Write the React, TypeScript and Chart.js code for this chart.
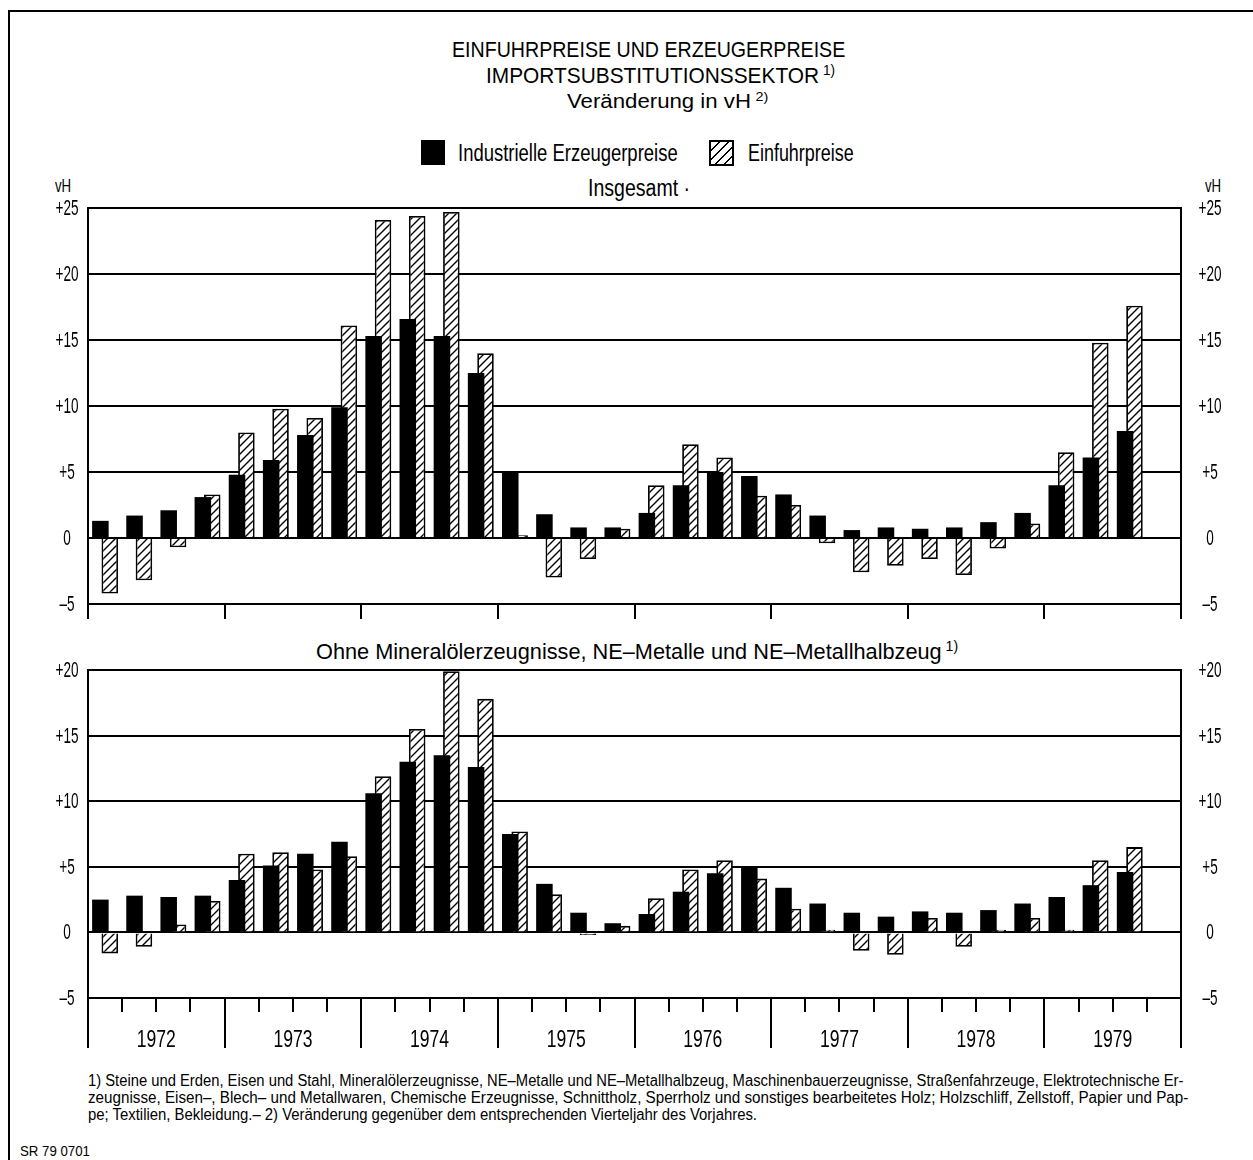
import React, { useEffect, useLayoutEffect, useRef, useState } from 'react';
import { Chart, registerables } from 'chart.js';

Chart.register(...registerables);

// ---------- data ----------
const YEARS = ['1972', '1973', '1974', '1975', '1976', '1977', '1978', '1979'];
const QUARTERS = ['I', 'II', 'III', 'IV'];
const LABELS = YEARS.flatMap((y) => QUARTERS.map((q) => `${q}/${y}`));

// Insgesamt
const TOP_ERZEUGER = [1.3, 1.7, 2.1, 3.1, 4.8, 5.9, 7.8, 9.9, 15.3, 16.6, 15.3, 12.5, 5.0, 1.8, 0.8, 0.8, 1.9, 4.0, 5.0, 4.7, 3.3, 1.7, 0.6, 0.8, 0.7, 0.8, 1.2, 1.9, 4.0, 6.1, 8.1, null];
const TOP_EINFUHR = [-4.2, -3.2, -0.7, 3.3, 8.0, 9.8, 9.1, 16.1, 24.1, 24.4, 24.7, 14.0, 0.2, -3.0, -1.6, 0.7, 4.0, 7.1, 6.1, 3.2, 2.5, -0.4, -2.6, -2.1, -1.6, -2.8, -0.8, 1.1, 6.5, 14.8, 17.6, null];

// Ohne Mineralölerzeugnisse, NE-Metalle und NE-Metallhalbzeug
const BOTTOM_ERZEUGER = [2.5, 2.8, 2.7, 2.8, 4.0, 5.1, 6.0, 6.9, 10.6, 13.0, 13.5, 12.6, 7.5, 3.7, 1.5, 0.7, 1.4, 3.1, 4.5, 5.0, 3.4, 2.2, 1.5, 1.2, 1.6, 1.5, 1.7, 2.2, 2.7, 3.6, 4.6, null];
const BOTTOM_EINFUHR = [-1.6, -1.1, 0.6, 2.4, 6.0, 6.1, 4.8, 5.8, 11.9, 15.5, 19.9, 17.8, 7.7, 2.9, -0.2, 0.5, 2.6, 4.8, 5.5, 4.1, 1.8, 0.2, -1.4, -1.7, 1.1, -1.1, 0.2, 1.1, 0.2, 5.5, 6.5, null];

const TOP_RANGE = [-5, 25];
const BOTTOM_RANGE = [-5, 20];
const TICK_STEP = 5;

const FONT = "'Liberation Sans', Arial, sans-serif";

const fmtTick = (v: number) => (v > 0 ? `+${v}` : v < 0 ? `–${Math.abs(v)}` : '0');

function makeHatch(): CanvasPattern | string {
  const c = document.createElement('canvas');
  c.width = 8;
  c.height = 8;
  const g = c.getContext('2d');
  if (!g) return '#fff';
  g.fillStyle = '#fff';
  g.fillRect(0, 0, 8, 8);
  g.strokeStyle = '#000';
  g.lineWidth = 1.4;
  g.beginPath();
  g.moveTo(-1, 9); g.lineTo(9, -1);
  g.moveTo(-1, 1); g.lineTo(1, -1);
  g.moveTo(7, 9); g.lineTo(9, 7);
  g.stroke();
  return g.createPattern(c, 'repeat') || '#fff';
}

function drawSqueezed(ctx: CanvasRenderingContext2D, text: string, cx: number, cy: number, k: number) {
  ctx.save();
  ctx.translate(cx, cy);
  ctx.scale(k, 1);
  ctx.fillText(text, 0, 0);
  ctx.restore();
}

const axisExtras = {
  id: 'axisExtras',
  afterDraw(chart: any, _args: any, opts: any) {
    const { ctx, chartArea, scales } = chart;
    const x = scales.x;
    const y = scales.y;
    const n = chart.data.labels.length;
    const step = x.getPixelForValue(1) - x.getPixelForValue(0);
    const bound = (i: number) => x.getPixelForValue(i) - step / 2;
    const per = QUARTERS.length;
    ctx.save();
    ctx.strokeStyle = '#000';
    ctx.lineWidth = 2;
    ctx.beginPath();
    ctx.moveTo(chartArea.left, chartArea.bottom);
    ctx.lineTo(chartArea.left, chartArea.bottom + opts.yearTick);
    ctx.moveTo(chartArea.right, chartArea.bottom);
    ctx.lineTo(chartArea.right, chartArea.bottom + opts.yearTick);
    for (let i = 1; i < n; i++) {
      const len = i % per === 0 ? opts.yearTick : opts.quarterTick;
      if (len > 0) {
        const px = Math.round(bound(i));
        ctx.moveTo(px, chartArea.bottom);
        ctx.lineTo(px, chartArea.bottom + len);
      }
    }
    ctx.stroke();

    // y tick labels (both sides), condensed
    ctx.fillStyle = '#000';
    ctx.textAlign = 'center';
    ctx.textBaseline = 'middle';
    ctx.font = `22px ${FONT}`;
    const kT = opts.tickLabelWidth / ctx.measureText(fmtTick(y.max)).width;
    y.ticks.forEach((t: any) => {
      const py = y.getPixelForValue(t.value) + 1;
      const s = fmtTick(t.value);
      drawSqueezed(ctx, s, chartArea.left - opts.leftLabelGap, py, kT);
      drawSqueezed(ctx, s, chartArea.right + opts.rightLabelGap, py, kT);
    });

    if (opts.showYears) {
      ctx.font = `23px ${FONT}`;
      const kY = opts.yearLabelWidth / ctx.measureText(YEARS[0]).width;
      YEARS.forEach((yr, k) => {
        const cx = (bound(k * per) + bound((k + 1) * per)) / 2;
        drawSqueezed(ctx, yr, cx, chartArea.bottom + opts.labelOffset, kY);
      });
    }
    ctx.restore();
  },
};

function makeConfig(erz: (number | null)[], einf: (number | null)[], range: number[], pad: { top: number; bottom: number }, extras: any) {
  const hatch = makeHatch();
  return {
    type: 'bar' as const,
    data: {
      labels: LABELS,
      datasets: [
        {
          label: 'Industrielle Erzeugerpreise',
          data: erz,
          backgroundColor: '#000',
          borderWidth: 0,
          categoryPercentage: 0.55,
          barPercentage: 1.76,
        },
        {
          label: 'Einfuhrpreise',
          data: einf,
          backgroundColor: hatch,
          borderColor: '#000',
          borderWidth: 1.8,
          categoryPercentage: 0.55,
          barPercentage: 1.76,
        },
      ],
    },
    options: {
      responsive: false,
      animation: false,
      events: [],
      layout: { padding: { top: pad.top, bottom: pad.bottom, left: 0, right: 0 } },
      plugins: {
        legend: { display: false },
        tooltip: { enabled: false },
        axisExtras: extras,
      },
      scales: {
        x: { display: false, offset: true, grid: { display: false } },
        y: {
          position: 'left',
          min: range[0],
          max: range[1],
          ticks: { stepSize: TICK_STEP, display: false },
          grid: { color: '#000', lineWidth: 2, drawTicks: false },
          border: { display: true, color: '#000', width: 2 },
          afterFit: (s: any) => { s.width = 88; },
        },
        y2: {
          position: 'right',
          min: range[0],
          max: range[1],
          ticks: { stepSize: TICK_STEP, display: false },
          grid: { drawOnChartArea: false, drawTicks: false },
          border: { display: true, color: '#000', width: 2 },
          afterFit: (s: any) => { s.width = 72; },
        },
      },
    },
    plugins: [axisExtras],
  };
}

function BarPanel(props: { erz: (number | null)[]; einf: (number | null)[]; range: number[]; top: number; height: number; pad: { top: number; bottom: number }; extras: any }) {
  const ref = useRef<HTMLCanvasElement>(null);
  useEffect(() => {
    if (!ref.current) return;
    const chart = new Chart(ref.current, makeConfig(props.erz, props.einf, props.range, props.pad, props.extras) as any);
    return () => chart.destroy();
  }, []);
  return (
    <canvas
      ref={ref}
      width={1253}
      height={props.height}
      style={{ position: 'absolute', left: 0, top: props.top, width: 1253, height: props.height }}
    />
  );
}

// Text fitted horizontally to the width it has in the original print
function FitText(props: { x: number; y: number; size: number; width: number; align?: 'left' | 'center'; children: React.ReactNode }) {
  const ref = useRef<HTMLSpanElement>(null);
  const [k, setK] = useState(1);
  useLayoutEffect(() => {
    const w = ref.current ? ref.current.offsetWidth : 0;
    if (w > 0) setK(props.width / w);
  }, []);
  const align = props.align ?? 'center';
  const left = align === 'center' ? props.x - props.width / 2 : props.x;
  return (
    <div style={{ position: 'absolute', left, top: props.y - 0.5 * props.size, whiteSpace: 'nowrap' }}>
      <span
        ref={ref}
        style={{
          display: 'inline-block',
          transform: `scaleX(${k})`,
          transformOrigin: 'left center',
          fontFamily: FONT,
          fontSize: props.size,
          lineHeight: `${props.size}px`,
          color: '#000',
        }}
      >
        {props.children}
      </span>
    </div>
  );
}

const Sup = (p: { children: React.ReactNode }) => (
  <span style={{ fontSize: '0.65em', position: 'relative', top: '-0.55em', marginLeft: 4 }}>{p.children}</span>
);

const FOOT_LINES = [
  '1) Steine und Erden, Eisen und Stahl, Mineralölerzeugnisse, NE–Metalle und NE–Metallhalbzeug, Maschinenbauerzeugnisse, Straßenfahrzeuge, Elektrotechnische Er-',
  'zeugnisse, Eisen–, Blech– und Metallwaren, Chemische Erzeugnisse, Schnittholz, Sperrholz und sonstiges bearbeitetes Holz; Holzschliff, Zellstoff, Papier und Pap-',
  'pe; Textilien, Bekleidung.– 2) Veränderung gegenüber dem entsprechenden Vierteljahr des Vorjahres.',
];
const FOOT_WIDTHS = [1095, 1100, 669];

export default function App() {
  return (
    <div style={{ position: 'absolute', left: 0, top: 0, width: 1253, height: 1160, background: '#fff', overflow: 'hidden' }}>
      {/* frame */}
      <div style={{ position: 'absolute', left: 8, top: 10, width: 1245, height: 2, background: '#000' }} />
      <div style={{ position: 'absolute', left: 8, top: 10, width: 2, height: 1150, background: '#000' }} />

      <FitText x={648} y={50} size={22} width={393}>EINFUHRPREISE UND ERZEUGERPREISE</FitText>
      <FitText x={660} y={76} size={22} width={349}>IMPORTSUBSTITUTIONSSEKTOR<Sup>1)</Sup></FitText>
      <FitText x={667} y={101} size={20} width={201}>Veränderung in vH<Sup>2)</Sup></FitText>

      {/* legend */}
      <div style={{ position: 'absolute', left: 421, top: 140, width: 24, height: 25, background: '#000' }} />
      <FitText x={458} y={153} size={23} width={220} align="left">Industrielle Erzeugerpreise</FitText>
      <div
        style={{
          position: 'absolute', left: 709, top: 140, width: 21, height: 22, border: '2px solid #000',
          background: 'repeating-linear-gradient(135deg, #fff 0px, #fff 5px, #000 5px, #000 6.5px)',
        }}
      />
      <FitText x={748} y={153} size={23} width={106} align="left">Einfuhrpreise</FitText>

      <FitText x={55} y={185} size={19} width={16} align="left">vH</FitText>
      <FitText x={1205} y={185} size={19} width={16} align="left">vH</FitText>
      <FitText x={639} y={188} size={23} width={102}>Insgesamt ·</FitText>

      <BarPanel
        erz={TOP_ERZEUGER}
        einf={TOP_EINFUHR}
        range={TOP_RANGE}
        top={190}
        height={440}
        pad={{ top: 18, bottom: 26 }}
        extras={{ yearTick: 15, quarterTick: 0, showYears: false, labelOffset: 0, tickLabelWidth: 23, leftLabelGap: 21, rightLabelGap: 29, yearLabelWidth: 39 }}
      />

      <FitText x={637} y={652} size={22} width={642}>Ohne Mineralölerzeugnisse, NE–Metalle und NE–Metallhalbzeug<Sup>1)</Sup></FitText>

      <BarPanel
        erz={BOTTOM_ERZEUGER}
        einf={BOTTOM_EINFUHR}
        range={BOTTOM_RANGE}
        top={640}
        height={420}
        pad={{ top: 30, bottom: 62 }}
        extras={{ yearTick: 50, quarterTick: 14, showYears: true, labelOffset: 43, tickLabelWidth: 23, leftLabelGap: 21, rightLabelGap: 29, yearLabelWidth: 39 }}
      />

      {FOOT_LINES.map((line, i) => (
        <FitText key={i} x={88} y={1080 + i * 17} size={16} width={FOOT_WIDTHS[i]} align="left">{line}</FitText>
      ))}
      <FitText x={20} y={1149} size={14} width={70} align="left">SR 79 0701</FitText>
    </div>
  );
}
